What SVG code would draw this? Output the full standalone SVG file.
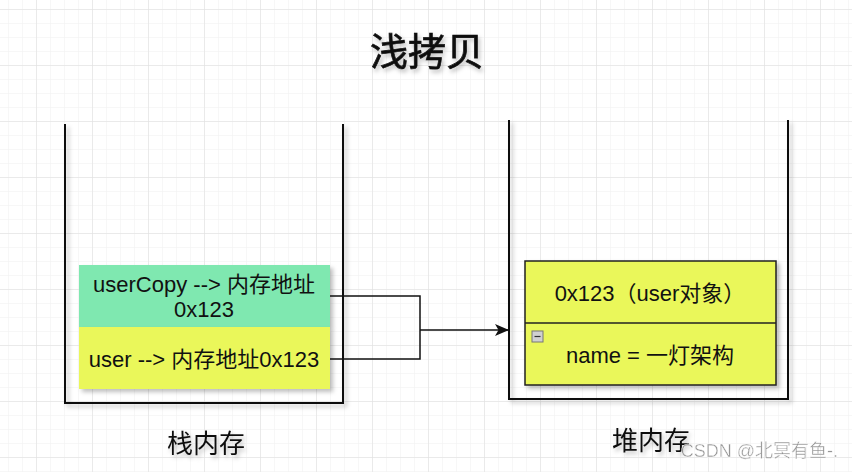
<svg xmlns="http://www.w3.org/2000/svg" width="852" height="472" viewBox="0 0 852 472">
  <style>
    .t { font-family: "Liberation Sans", "Noto Sans CJK SC", sans-serif; fill: #111; }
    .c { stroke: #111; stroke-width: 2; fill: none; }
    .box { stroke: #222; stroke-width: 1.5; }
    .edge { stroke: #111; stroke-width: 1.5; fill: none; }
  </style>
  <defs>
    <pattern id="minor" x="8" y="9" width="14" height="14" patternUnits="userSpaceOnUse">
      <path d="M0 0 H14 M0 0 V14" stroke="#efefef" stroke-width="1" fill="none"/>
    </pattern>
    <pattern id="major" x="36" y="9" width="56" height="56" patternUnits="userSpaceOnUse">
      <path d="M0 0 H56 M0 0 V56" stroke="#dedede" stroke-width="1" fill="none"/>
    </pattern>
    <filter id="sh" x="-10%" y="-10%" width="130%" height="140%">
      <feDropShadow dx="3" dy="3" stdDeviation="2" flood-color="#000" flood-opacity="0.25"/>
    </filter>
    <filter id="tsh" x="-10%" y="-10%" width="130%" height="140%">
      <feDropShadow dx="2" dy="3" stdDeviation="2" flood-color="#000" flood-opacity="0.25"/>
    </filter>
    <marker id="arr" markerWidth="16" markerHeight="14" refX="14" refY="6" orient="auto" markerUnits="userSpaceOnUse">
      <path d="M0 0 L14 6 L0 12 L3.5 6 Z" fill="#111"/>
    </marker>
  </defs>

  <rect width="852" height="472" fill="#fff"/>
  <rect width="852" height="472" fill="url(#minor)"/>
  <rect width="852" height="472" fill="url(#major)"/>

  <text class="t" x="427" y="65" font-size="38" text-anchor="middle" stroke="#111" stroke-width="0.7" filter="url(#tsh)">浅拷贝</text>

  <g id="stack">
    <path class="c" d="M65 124 V403 H343 V124" filter="url(#sh)"/>
    <text class="t" x="206" y="453" font-size="26" text-anchor="middle" filter="url(#tsh)">栈内存</text>
  </g>

  <g id="heap">
    <path class="c" d="M509 120 V399 H788 V120" filter="url(#sh)"/>
    <text class="t" x="651" y="450" font-size="26" text-anchor="middle" filter="url(#tsh)">堆内存</text>
  </g>

  <g id="userCopy">
    <rect x="79" y="265" width="251" height="62" fill="#7fe8b0" filter="url(#sh)"/>
    <text class="t" x="204" y="292" font-size="22" text-anchor="middle">userCopy --&gt; 内存地址</text>
    <text class="t" x="204" y="317" font-size="22" text-anchor="middle">0x123</text>
  </g>

  <g id="user">
    <rect x="79" y="327" width="251" height="62" fill="#eaf75a" filter="url(#sh)"/>
    <text class="t" x="204" y="367" font-size="22" text-anchor="middle">user --&gt; 内存地址0x123</text>
  </g>

  <g id="userObject">
    <rect class="box" x="525" y="261" width="251" height="124" fill="#eaf75a" filter="url(#sh)"/>
    <line class="box" x1="525" y1="323" x2="776" y2="323"/>
    <text class="t" x="650" y="301" font-size="22" text-anchor="middle">0x123（user对象）</text>
    <rect x="532" y="331" width="11" height="11" fill="#d0d0d0" stroke="#777" stroke-width="1"/>
    <line x1="534.5" y1="336.5" x2="540.5" y2="336.5" stroke="#333" stroke-width="1.2"/>
    <text class="t" x="650" y="363" font-size="22" text-anchor="middle">name = 一灯架构</text>
  </g>

  <g id="connectors">
    <path class="edge" d="M330 296 H420 V359 H330"/>
    <path class="edge" d="M420 330 H509" marker-end="url(#arr)"/>
  </g>

  <text x="838" y="457" font-family="Liberation Sans, Noto Sans CJK SC, sans-serif" font-size="18" text-anchor="end" fill="#8a8a8a" stroke="#fff" stroke-width="0.4" opacity="0.9">CSDN @北冥有鱼-.</text>
</svg>
